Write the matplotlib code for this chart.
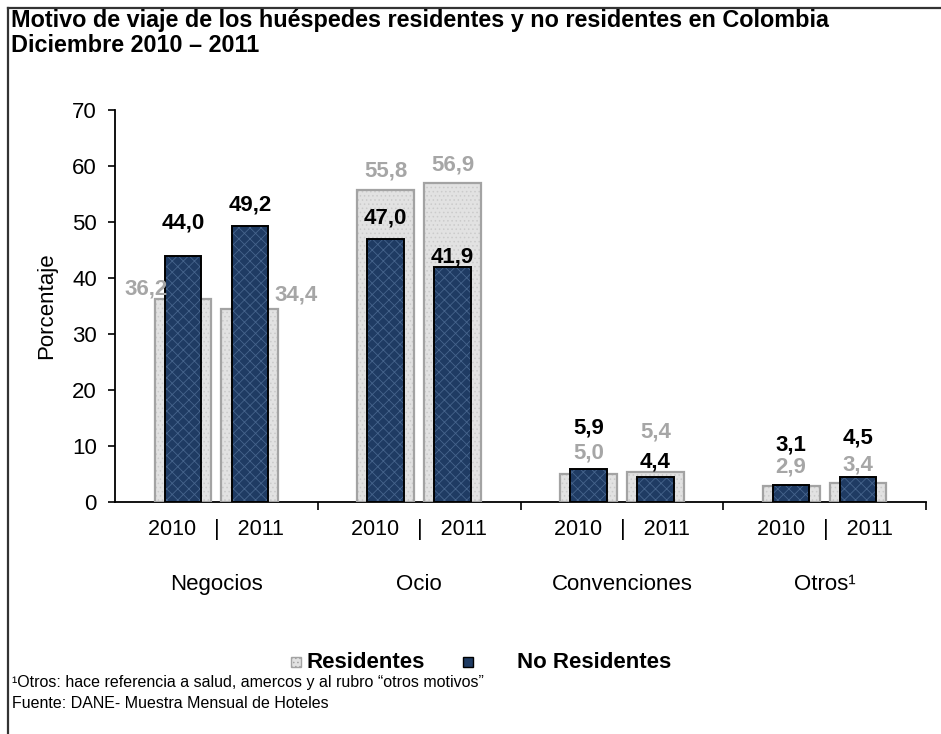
import matplotlib
matplotlib.use("Agg")
import matplotlib.pyplot as plt
from matplotlib.lines import Line2D
from matplotlib.patches import Rectangle
import numpy as np

plt.rcParams['font.family'] = ['Liberation Sans', 'DejaVu Sans']
plt.rcParams['hatch.linewidth'] = 0.6

categorias = ["Negocios", "Ocio", "Convenciones", "Otros\u00b9"]
anios = ["2010", "2011"]
# porcentajes por categoria: [2010, 2011]
residentes = [[36.2, 34.4], [55.8, 56.9], [5.0, 5.4], [2.9, 3.4]]
no_residentes = [[44.0, 49.2], [47.0, 41.9], [5.9, 4.4], [3.1, 4.5]]

# desplazamiento de las etiquetas (pixeles: dx, dy sobre el tope de la barra)
off_res = [[(-37, 10), (46, 14)], [(0, 19), (0, 18)], [(0, 21), (0, 40)], [(0, 19), (0, 18)]]
off_nores = [[(0, 33), (0, 21)], [(0, 21), (0, 10)], [(0, 41), (0, 15)], [(0, 40), (0, 39)]]

gris_fill = "#e2e2e2"
gris_hatch = "#cbcbcb"
gris_borde = "#a3a3a3"
azul_fill = "#1f3b63"
azul_hatch = "#46648c"
gris_texto = "#a6a6a6"

fig = plt.figure(figsize=(9.41, 7.34), dpi=100)
ax = fig.add_axes([115 / 941, 1 - 502 / 734, (926 - 115) / 941, (502 - 110) / 734])

desp = [-0.165, 0.165]
w_res = 0.28
w_nores = 0.18
px = 0.72  # pixel -> puntos a 100 dpi

for i in range(len(categorias)):
    for j in range(2):
        x = i + desp[j]
        r = residentes[i][j]
        n = no_residentes[i][j]
        ax.bar(x, r, w_res, color=gris_fill, edgecolor=gris_hatch, hatch="....", linewidth=0, zorder=2)
        ax.bar(x, r, w_res, fill=False, edgecolor=gris_borde, linewidth=1.6, zorder=3)
        ax.bar(x, n, w_nores, color=azul_fill, edgecolor=azul_hatch, hatch="xxx", linewidth=0, zorder=4)
        ax.bar(x, n, w_nores, fill=False, edgecolor="black", linewidth=1.4, zorder=5)
        dx, dy = off_res[i][j]
        ax.annotate(f"{r:.1f}".replace(".", ","), (x, r), xytext=(dx * px, dy * px),
                    textcoords="offset points", ha="center", va="center",
                    fontsize=16, fontweight="bold", color=gris_texto, zorder=6)
        dx, dy = off_nores[i][j]
        ax.annotate(f"{n:.1f}".replace(".", ","), (x, n), xytext=(dx * px, dy * px),
                    textcoords="offset points", ha="center", va="center",
                    fontsize=16, fontweight="bold", color="black", zorder=6)
    ax.text(i, -5.0, f"{anios[0]}   |   {anios[1]}", ha="center", va="center", fontsize=15.5)
    ax.text(i, -14.8, categorias[i], ha="center", va="center", fontsize=16)

ax.set_xlim(-0.5, 3.5)
ax.set_ylim(0, 70)
ax.set_yticks(np.arange(0, 71, 10))
ax.set_xticks([0.5, 1.5, 2.5, 3.5])
ax.set_xticklabels([])
ax.tick_params(axis="y", direction="out", length=5, width=1.2, labelsize=16, pad=8)
ax.tick_params(axis="x", direction="out", length=6, width=1.2)
for s in ["top", "right"]:
    ax.spines[s].set_visible(False)
for s in ["left", "bottom"]:
    ax.spines[s].set_linewidth(1.3)
ax.set_ylabel("Porcentaje", fontsize=16)
ax.yaxis.set_label_coords(-58 / 811, 0.5)

# titulo
fig.text(11 / 941, 1 - 20 / 734, "Motivo de viaje de los hu\u00e9spedes residentes y no residentes en Colombia",
         fontsize=16.8, fontweight="bold", va="center", ha="left")
fig.text(11 / 941, 1 - 45 / 734, "Diciembre 2010 \u2013 2011",
         fontsize=16.8, fontweight="bold", va="center", ha="left")

# leyenda
fig.add_artist(Rectangle((291 / 941, 1 - 667 / 734), 10 / 941, 10 / 734, transform=fig.transFigure,
                         facecolor=gris_fill, edgecolor=gris_borde, hatch="....", linewidth=1))
fig.text(307 / 941, 1 - 662 / 734, "Residentes", fontsize=16, fontweight="bold", va="center")
fig.add_artist(Rectangle((463 / 941, 1 - 667 / 734), 10 / 941, 10 / 734, transform=fig.transFigure,
                         facecolor=azul_fill, edgecolor="black", linewidth=1))
fig.text(517 / 941, 1 - 662 / 734, "No Residentes", fontsize=16, fontweight="bold", va="center")

# notas
fig.text(12 / 941, 1 - 683 / 734, "\u00b9Otros: hace referencia a salud, amercos y al rubro \u201cotros motivos\u201d",
         fontsize=11.5, va="center")
fig.text(12 / 941, 1 - 704 / 734, "Fuente: DANE- Muestra Mensual de Hoteles", fontsize=11.5, va="center")

# marco
fig.add_artist(Line2D([8 / 941, 8 / 941], [0, 1 - 8 / 734], transform=fig.transFigure, color="#333333", lw=1.6))
fig.add_artist(Line2D([8 / 941, 1], [1 - 8 / 734, 1 - 8 / 734], transform=fig.transFigure, color="#333333", lw=1.6))

fig.savefig("out.png", dpi=100)
